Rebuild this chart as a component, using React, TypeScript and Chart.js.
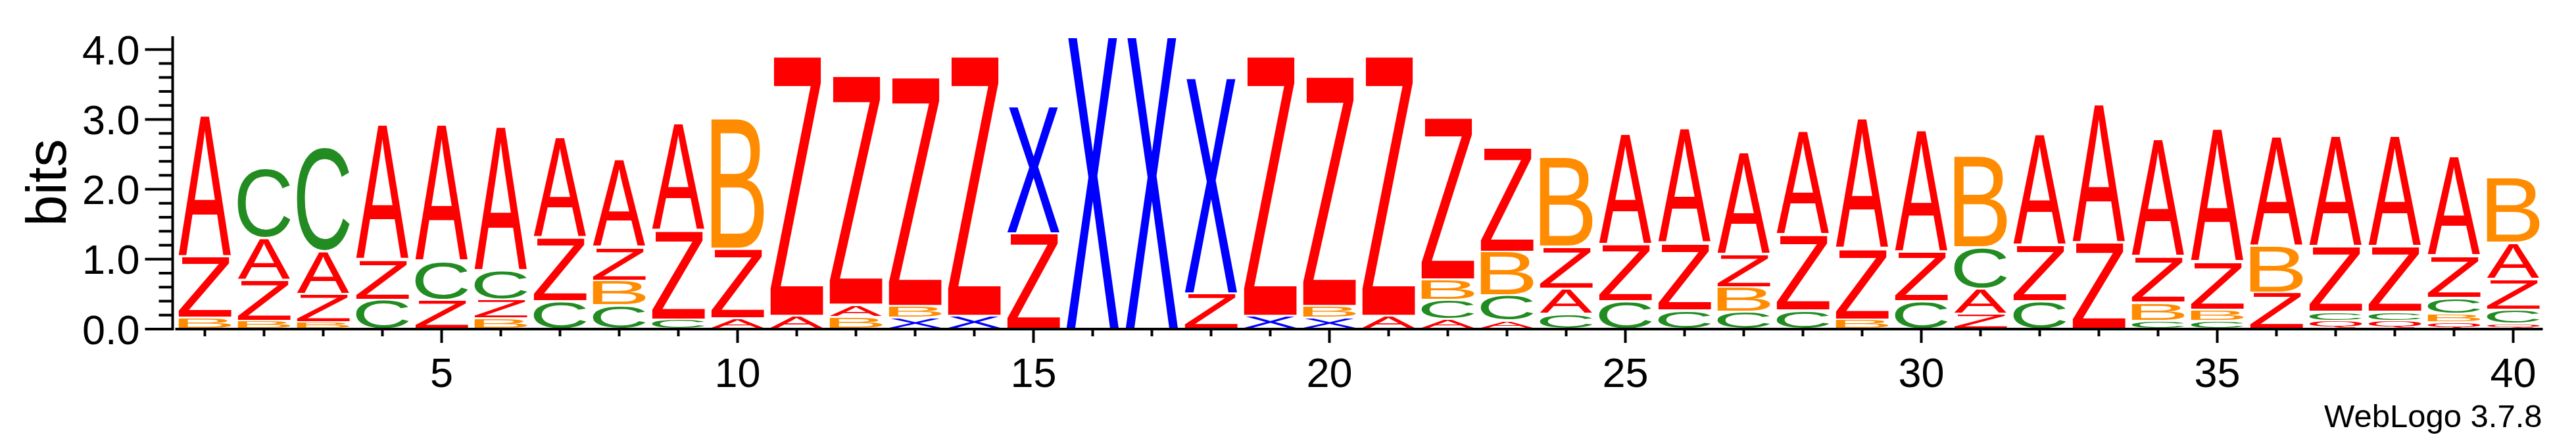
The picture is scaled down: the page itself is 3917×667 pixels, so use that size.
import React, { useEffect, useRef } from 'react';
import { Chart, registerables } from 'chart.js';

Chart.register(...registerables);

// ---------- data ----------
const positions = ['1','2','3','4','5','6','7','8','9','10','11','12','13','14','15','16','17','18','19','20',
  '21','22','23','24','25','26','27','28','29','30','31','32','33','34','35','36','37','38','39','40'];

// information content (bits) of each letter at each position
const bitsA = [2.03,0.60,0.61,1.94,1.96,2.07,1.44,1.26,1.54,0.15,0.19,0.18,0,0,0,0,0,0,0,0,
  0.19,0.14,0.12,0.36,1.59,1.64,1.46,1.49,1.87,1.75,0.36,1.60,1.99,1.68,1.91,1.57,1.59,1.59,1.43,0.52];
const bitsB = [0.16,0.12,0.10,0,0,0.15,0,0.35,0,1.87,0,0.17,0.17,0,0,0,0,0,0,0.17,
  0,0.29,0.63,1.28,0,0,0.35,0,0.14,0,1.31,0,0,0.26,0.16,0.67,0,0,0.12,0.94];
const bitsC = [0,1.00,1.50,0.42,0.55,0.41,0.40,0.34,0.14,0,0,0,0,0,0,0,0,0,0,0,
  0,0.28,0.36,0.22,0.40,0.27,0.25,0.27,0,0.40,0.59,0.40,0,0.12,0.12,0,0.13,0.13,0.23,0.20];
const bitsQ = [0,0,0,0,0,0,0,0,0,0,0,0,0,0,0,0,0,0,0,0,
  0,0,0,0,0,0,0,0,0,0,0,0,0,0,0,0,0.12,0.12,0.10,0.08];
const bitsX = [0,0,0,0,0,0,0,0,0,0,0,0,0.16,0.19,1.82,4.19,4.19,3.09,0.19,0.16,
  0,0,0,0,0,0,0,0,0,0,0,0,0,0,0,0,0,0,0,0];
const bitsZ = [0.87,0.58,0.40,0.57,0.42,0.27,0.91,0.48,1.27,1.00,3.72,3.28,3.28,3.72,1.37,0,0,0.51,3.72,3.29,
  3.72,2.32,1.49,0.60,0.81,0.96,0.47,1.08,1.01,0.70,0.22,0.80,1.23,0.66,0.68,0.52,0.93,0.93,0.60,0.44];

const letterNames = ['A','B','C','Q','X','Z'];
const letterSeries = [bitsA, bitsB, bitsC, bitsQ, bitsX, bitsZ];
const letterColors: Record<string, string> = {
  A: '#ff0000', Z: '#ff0000', Q: '#ff0000', B: '#ff8c00', C: '#228b22', X: '#0000ff',
};

const yMax = 4.19;
const yMajorTicks = [0, 1, 2, 3, 4];
const yMajorLabels = ['0.0', '1.0', '2.0', '3.0', '4.0'];
const yMinorTicks = [0.2,0.4,0.6,0.8,1.2,1.4,1.6,1.8,2.2,2.4,2.6,2.8,3.2,3.4,3.6,3.8];
const xMajorLabels = ['5','10','15','20','25','30','35','40'];

const FONT = '"Liberation Sans", Arial, Helvetica, sans-serif';

// ---------- stacking (smallest at bottom, like WebLogo) ----------
function buildStacks() {
  const nRanks = 5;
  const rankLetters: string[][] = [];
  const rankBits: number[][] = [];
  for (let r = 0; r < nRanks; r++) { rankLetters.push([]); rankBits.push([]); }
  positions.forEach((_, i) => {
    const entries = letterNames
      .map((l, k) => ({ l, v: letterSeries[k][i] }))
      .filter(e => e.v > 0)
      .sort((a, b) => a.v - b.v);
    for (let r = 0; r < nRanks; r++) {
      rankLetters[r].push(entries[r] ? entries[r].l : '');
      rankBits[r].push(entries[r] ? entries[r].v : 0);
    }
  });
  return { rankLetters, rankBits };
}

function drawGlyph(ctx: CanvasRenderingContext2D, letter: string, left: number, top: number, w: number, h: number, color: string) {
  ctx.save();
  ctx.font = `200px ${FONT}`;
  ctx.textAlign = 'left';
  ctx.textBaseline = 'alphabetic';
  const m = ctx.measureText(letter);
  const inkL = m.actualBoundingBoxLeft;
  const inkR = m.actualBoundingBoxRight;
  const asc = m.actualBoundingBoxAscent;
  const desc = m.actualBoundingBoxDescent;
  const sx = w / (inkL + inkR);
  const sy = h / (asc + desc);
  ctx.translate(left + inkL * sx, top + asc * sy);
  ctx.scale(sx, sy);
  ctx.fillStyle = color;
  ctx.fillText(letter, 0, 0);
  ctx.restore();
}

const logoPlugin = {
  id: 'logoLetters',
  afterDatasetsDraw(chart: any) {
    const ctx: CanvasRenderingContext2D = chart.ctx;
    const inset = 1.6;
    chart.data.datasets.forEach((ds: any, di: number) => {
      const meta = chart.getDatasetMeta(di);
      meta.data.forEach((el: any, j: number) => {
        const v = ds.data[j];
        const letter = ds.letters[j];
        if (!v || !letter) return;
        const p = el.getProps(['x', 'y', 'base', 'width'], true);
        const top = Math.min(p.y, p.base) + inset;
        const bottom = Math.max(p.y, p.base) - inset;
        const h = bottom - top;
        if (h <= 0.3) return;
        drawGlyph(ctx, letter, p.x - p.width / 2, top, p.width, h, letterColors[letter]);
      });
    });
  },
};

const axesPlugin = {
  id: 'logoAxes',
  afterDraw(chart: any) {
    const ctx: CanvasRenderingContext2D = chart.ctx;
    const { chartArea } = chart;
    const xs = chart.scales.x;
    const ys = chart.scales.y;
    const lw = 4;
    ctx.save();
    ctx.strokeStyle = '#000';
    ctx.fillStyle = '#000';
    ctx.lineWidth = lw;
    ctx.lineCap = 'butt';

    const y0 = ys.getPixelForValue(0);
    const yTop = ys.getPixelForValue(yMax);
    const axisX = chartArea.left - 4;

    // y axis line
    ctx.beginPath();
    ctx.moveTo(axisX, yTop);
    ctx.lineTo(axisX, y0 + lw / 2);
    ctx.stroke();

    // y ticks
    yMinorTicks.forEach(v => {
      const py = ys.getPixelForValue(v);
      ctx.beginPath();
      ctx.moveTo(axisX - 21, py);
      ctx.lineTo(axisX, py);
      ctx.stroke();
    });
    ctx.font = `63px ${FONT}`;
    ctx.textAlign = 'right';
    ctx.textBaseline = 'alphabetic';
    yMajorTicks.forEach((v, k) => {
      const py = ys.getPixelForValue(v);
      ctx.beginPath();
      ctx.moveTo(axisX - 42, py);
      ctx.lineTo(axisX, py);
      ctx.stroke();
      ctx.fillText(yMajorLabels[k], axisX - 50, py + 22.5);
    });

    // x axis line
    ctx.beginPath();
    ctx.moveTo(chartArea.left, y0);
    ctx.lineTo(chartArea.right, y0);
    ctx.stroke();

    // x ticks
    ctx.textAlign = 'center';
    positions.forEach((lab, i) => {
      const px = xs.getPixelForValue(i);
      const major = xMajorLabels.includes(lab);
      ctx.beginPath();
      ctx.moveTo(px, y0);
      ctx.lineTo(px, y0 + (major ? 21 : 11));
      ctx.stroke();
      if (major) ctx.fillText(lab, px, y0 + 87.5);
    });

    // y title
    ctx.save();
    ctx.font = `85px ${FONT}`;
    ctx.textAlign = 'center';
    ctx.textBaseline = 'alphabetic';
    ctx.translate(100, (y0 + yTop) / 2);
    ctx.rotate(-Math.PI / 2);
    ctx.fillText('bits', 0, 0);
    ctx.restore();

    // fine print
    ctx.font = `49px ${FONT}`;
    ctx.textAlign = 'right';
    ctx.fillText('WebLogo 3.7.8', chartArea.right - 1, y0 + 148.5);

    ctx.restore();
  },
};

export default function App() {
  const canvasRef = useRef<HTMLCanvasElement | null>(null);

  useEffect(() => {
    const canvas = canvasRef.current;
    if (!canvas) return;
    const { rankLetters, rankBits } = buildStacks();
    const datasets = rankBits.map((data, r) => ({
      label: `rank ${r + 1}`,
      data,
      letters: rankLetters[r],
      backgroundColor: 'rgba(0,0,0,0)',
      borderWidth: 0,
      barPercentage: 80 / 90,
      categoryPercentage: 1,
      stack: 'logo',
    }));
    const chart = new Chart(canvas, {
      type: 'bar',
      data: { labels: positions, datasets: datasets as any },
      options: {
        responsive: false,
        animation: false,
        devicePixelRatio: 1,
        layout: { padding: { left: 266.5, right: 50.5, top: 55, bottom: 167 } },
        plugins: { legend: { display: false }, tooltip: { enabled: false } },
        scales: {
          x: { type: 'category', stacked: true, display: false, offset: true },
          y: { type: 'linear', stacked: true, display: false, min: 0, max: yMax },
        },
      },
      plugins: [logoPlugin, axesPlugin],
    });
    return () => chart.destroy();
  }, []);

  return (
    <div style={{ position: 'absolute', left: 0, top: 0, width: 3917, height: 667, background: '#fff' }}>
      <canvas ref={canvasRef} width={3917} height={667} style={{ display: 'block' }} />
    </div>
  );
}
